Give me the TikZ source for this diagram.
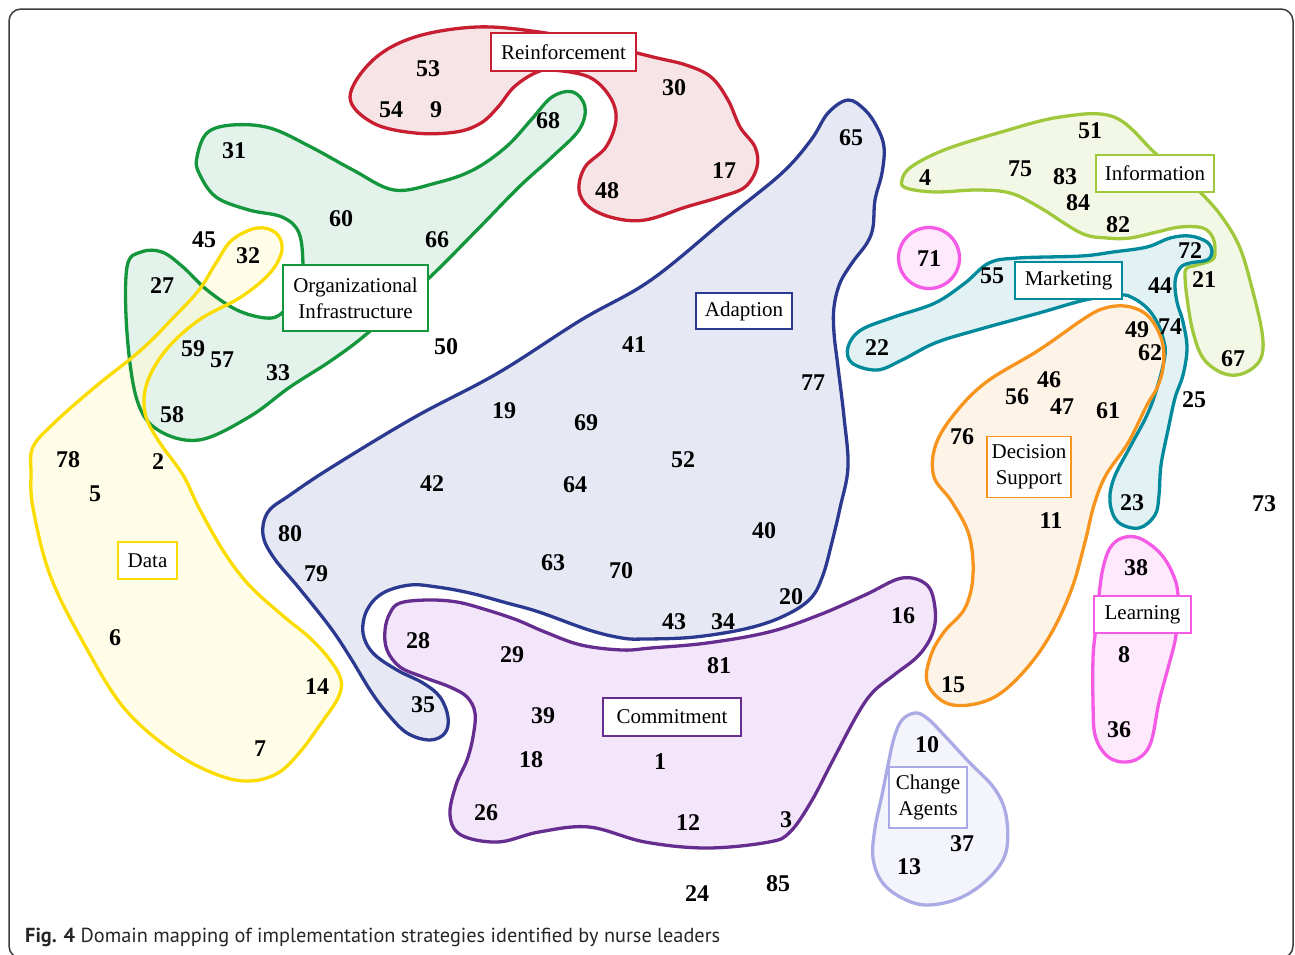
\documentclass[tikz,border=0pt]{standalone}
\usepackage{fontspec}
\setmainfont{Liberation Serif}
\newfontfamily\capfont{PT Sans}
\definecolor{redS}{RGB}{200,30,50}\definecolor{redF}{RGB}{237,201,205}
\definecolor{grnS}{RGB}{20,150,60}\definecolor{grnF}{RGB}{199,229,213}
\definecolor{yelS}{RGB}{250,220,0}\definecolor{yelF}{RGB}{255,251,209}
\definecolor{navS}{RGB}{43,57,144}\definecolor{navF}{RGB}{205,211,231}
\definecolor{purS}{RGB}{102,45,145}\definecolor{purF}{RGB}{231,205,245}
\definecolor{infS}{RGB}{160,200,60}\definecolor{infF}{RGB}{231,241,205}
\definecolor{tealS}{RGB}{0,138,155}\definecolor{tealF}{RGB}{197,227,231}
\definecolor{orgS}{RGB}{247,148,29}\definecolor{orgF}{RGB}{251,231,207}
\definecolor{magS}{RGB}{245,90,230}\definecolor{magF}{RGB}{251,211,247}
\definecolor{lavS}{RGB}{170,170,228}\definecolor{lavF}{RGB}{233,233,249}
\definecolor{frameC}{RGB}{60,60,60}
\begin{document}
\begin{tikzpicture}[x=1pt,y=-1pt,
  blobfill/.style={fill opacity=0.5},
  blobline/.style={line width=3.3pt, line join=round},
  num/.style={font=\bfseries\fontsize{24}{24}\selectfont, inner sep=0pt},
  lab/.style={draw, fill=white, line width=1.8pt, text=black, align=center, inner sep=0pt,
    font=\fontsize{21}{26}\selectfont},
  smoothblob/.style={smooth cycle, tension=0.6}]
\useasboundingbox (0,0) rectangle (1295,954);
\draw[frameC, line width=1.5pt, rounded corners=12pt] (9,9) rectangle (1293,958);

% ---- saved outlines
\path[save path=\pRed] plot[smoothblob] coordinates {(350,97) (373,60) (415,37) (477,27) (539,32) (600,44) (653,57) (686,65) (711,77) (728,100) (740,127) (755,147) (757,167) (745,187) (720,197) (686,207) (645,220) (614,218) (589,207) (579,190) (585,167) (606,147) (616,120) (610,97) (589,77) (552,70) (535,73) (514,87) (498,107) (481,123) (456,132) (415,133) (373,123)};
\path[save path=\pGrn] plot[smoothblob] coordinates {(197,157) (207,133) (232,125) (270,128) (311,147) (353,170) (394,190) (436,183) (473,170) (506,147) (531,120) (552,97) (573,92) (585,107) (579,130) (552,157) (519,187) (477,230) (427,280) (369,332) (332,360) (290,387) (249,417) (199,440) (158,430) (137,400) (127,333) (127,267) (141,252) (162,252) (183,267) (207,290) (237,310) (266,318) (282,313) (300,290) (303,267) (299,233) (282,217) (249,210) (216,197) (199,173)};
\path[save path=\pYel] plot[smoothblob] coordinates {(276,233) (257,228) (232,240) (216,263) (199,290) (174,317) (141,350) (95,387) (54,423) (33,447) (31,473) (33,508) (50,575) (83,642) (124,708) (174,752) (218,775) (250,781) (278,773) (300,752) (322,722) (338,698) (341,680) (330,660) (310,638) (282,615) (249,585) (224,552) (199,508) (183,475) (158,440) (145,413) (147,383) (166,350) (199,320) (241,297) (270,273) (282,250)};
\path[save path=\pNav] plot[smoothblob] coordinates {(848,100) (865,110) (877,127) (884,147) (882,173) (875,200) (873,227) (867,243) (852,263) (840,283) (834,307) (834,333) (838,367) (844,417) (848,467) (840,508) (832,542) (823,575) (811,598) (786,615) (749,628) (695,637) (645,639) (622,638) (589,630) (539,612) (507,603) (470,593) (437,587) (410,585) (383,593) (367,610) (363,633) (373,653) (397,670) (423,683) (440,697) (448,717) (445,733) (430,740) (407,733) (387,713) (370,690) (350,657) (330,627) (299,588) (274,558) (263,535) (268,512) (290,495) (332,467) (415,417) (498,373) (581,320) (651,280) (728,217) (782,173) (811,140) (828,113)};
\path[save path=\pPur] plot[smoothblob] coordinates {(390,613) (400,603) (427,600) (457,602) (487,610) (517,620) (545,632) (581,645) (622,650) (651,648) (707,643) (769,632) (819,615) (865,595) (902,578) (927,585) (935,608) (933,632) (919,655) (894,675) (873,692) (857,715) (832,762) (811,802) (790,832) (769,842) (707,848) (645,842) (589,827) (539,832) (498,842) (461,835) (450,815) (456,785) (467,760) (473,737) (475,713) (467,697) (450,687) (423,677) (400,667) (387,650) (385,630)};
\path[save path=\pInf] plot[smoothblob] coordinates {(902,180) (911,167) (944,150) (998,133) (1060,117) (1114,117) (1155,153) (1185,180) (1201,193) (1222,217) (1240,248) (1253,292) (1262,332) (1262,355) (1253,368) (1237,375) (1220,372) (1203,358) (1193,332) (1187,298) (1185,275) (1187,268) (1197,265) (1212,260) (1215,252) (1213,238) (1203,228) (1180,227) (1157,232) (1130,238) (1107,238) (1081,233) (1039,207) (1010,193) (977,190) (935,192) (906,188)};
\path[save path=\pTeal] plot[smoothblob] coordinates {(848,347) (861,330) (894,317) (935,303) (965,283) (989,263) (1018,258) (1081,256) (1113,252) (1147,247) (1170,238) (1190,236) (1207,242) (1212,252) (1207,260) (1190,263) (1180,268) (1175,282) (1177,302) (1183,322) (1187,348) (1183,375) (1175,398) (1168,430) (1161,465) (1159,495) (1155,515) (1139,528) (1118,522) (1110,502) (1114,478) (1130,447) (1147,415) (1157,388) (1165,355) (1163,338) (1157,322) (1147,308) (1133,298) (1120,295) (1085,300) (1039,313) (977,330) (935,343) (902,360) (877,370) (852,363)};
\path[save path=\pOrg] plot[smoothblob] coordinates {(1125,306) (1143,312) (1155,325) (1163,345) (1163,368) (1157,388) (1147,405) (1128,443) (1106,475) (1094,505) (1085,542) (1072,588) (1052,632) (1027,668) (998,695) (969,705) (944,702) (927,682) (931,655) (944,632) (965,608) (973,575) (969,535) (952,502) (934,477) (935,447) (952,417) (985,383) (1039,350) (1085,318) (1105,308)};
\path[save path=\pMag] plot[smoothblob] coordinates {(1103,568) (1110,548) (1122,538) (1139,538) (1159,552) (1172,572) (1178,595) (1176,635) (1168,668) (1159,702) (1151,742) (1139,758) (1122,762) (1106,755) (1095,735) (1093,702) (1093,658) (1095,635) (1099,595)};
\path[save path=\pLav] plot[smoothblob] coordinates {(915,713) (902,720) (894,738) (888,765) (882,795) (875,828) (873,858) (882,882) (902,898) (927,905) (960,898) (989,878) (1006,852) (1006,815) (994,788) (969,762) (944,735) (927,718)};

% ---- fills
\fill[redF, blobfill, use path=\pRed];
\fill[grnF, blobfill, use path=\pGrn];
\fill[yelF, blobfill, use path=\pYel];
\fill[navF, blobfill, use path=\pNav];
\fill[purF, blobfill, use path=\pPur];
\fill[infF, blobfill, use path=\pInf];
\fill[tealF, blobfill, use path=\pTeal];
\fill[orgF, blobfill, use path=\pOrg];
\fill[magF, blobfill, use path=\pMag];
\fill[lavF, blobfill, use path=\pLav];
\fill[magF, blobfill] (929,258) circle[radius=30.5];

% ---- outlines
\draw[redS, blobline, use path=\pRed];
\draw[grnS, blobline, use path=\pGrn];
\draw[yelS, blobline, use path=\pYel];
\draw[navS, blobline, use path=\pNav];
\draw[purS, blobline, use path=\pPur];
\draw[infS, blobline, use path=\pInf];
\draw[tealS, blobline, use path=\pTeal];
\draw[orgS, blobline, use path=\pOrg];
\draw[magS, blobline, use path=\pMag];
\draw[lavS, blobline, use path=\pLav];
\draw[magS, blobline] (929,258) circle[radius=30.5];

% ---- domain labels
\node[lab, draw=redS, minimum width=145pt, minimum height=38pt] (Lreinf) at (563.5,52) {Reinforcement};
\node[lab, draw=grnS, minimum width=145pt, minimum height=66pt] (Lorg) at (355.5,298) {Organizational\\Infrastructure};
\node[lab, draw=yelS, minimum width=59pt, minimum height=37pt] (Ldata) at (147.5,560.5) {Data};
\node[lab, draw=navS, minimum width=96pt, minimum height=36pt] (Ladapt) at (744,311) {Adaption};
\node[lab, draw=purS, minimum width=138pt, minimum height=38pt] (Lcommit) at (672,717) {Commitment};
\node[lab, draw=infS, minimum width=118pt, minimum height=37pt] (Linfo) at (1155,173.5) {Information};
\node[lab, draw=tealS, minimum width=107pt, minimum height=37pt] (Lmark) at (1068.5,280.5) {Marketing};
\node[lab, draw=orgS, minimum width=84pt, minimum height=61pt] (Ldec) at (1029,467) {Decision\\Support};
\node[lab, draw=magS, minimum width=97pt, minimum height=37pt] (Llearn) at (1142.5,614.5) {Learning};
\node[lab, draw=lavS, minimum width=78pt, minimum height=61pt] (Lchange) at (928,797.5) {Change\\Agents};

% ---- strategy numbers
\foreach \t/\x/\y in {53/428/69, 54/391/110, 9/436/110, 30/674/88, 17/724/171, 48/607/191,
  68/548/121, 31/234/151, 60/341/219, 66/437/240, 45/204/240, 32/248/256, 27/162/286,
  59/193/349, 57/222/360, 33/278/373, 58/172/415, 50/446/347,
  78/68/460, 2/158/462, 5/95/494, 6/115/638, 14/317/687, 7/260/749,
  65/851/138, 41/634/345, 77/813/383, 19/504/411, 69/586/423, 52/683/460, 42/432/484,
  64/575/485, 40/764/531, 80/290/534, 79/316/574, 63/553/563, 70/621/571, 20/791/597,
  43/674/622, 34/723/622, 28/418/641, 29/512/655, 81/719/666, 16/903/616, 35/423/705,
  39/543/716, 18/531/760, 1/660/762, 26/486/813, 12/688/823, 3/786/820, 24/697/894, 85/778/884,
  4/925/178, 75/1020/169, 83/1065/177, 84/1078/203, 51/1090/131, 82/1118/225, 72/1190/251,
  21/1204/280, 44/1160/286, 67/1233/359, 55/992/276, 22/877/348, 49/1137/330, 74/1170/327,
  62/1150/353, 46/1049/380, 56/1017/397, 47/1062/407, 61/1108/411, 25/1194/400, 76/962/437,
  11/1051/521, 23/1132/503, 73/1264/504, 38/1136/568, 8/1124/655, 36/1119/730, 15/953/685,
  10/927/745, 37/962/844, 13/909/867, 71/929/259}
  \node[num] (n\t) at (\x,\y) {\t};

% ---- caption
\node[anchor=base west, inner sep=0pt, text=black!85, font=\capfont\fontsize{20.3}{24}\selectfont] (caption) at (25,942)
  {\textbf{Fig. 4} Domain mapping of implementation strategies identified by nurse leaders};
\end{tikzpicture}
\end{document}
